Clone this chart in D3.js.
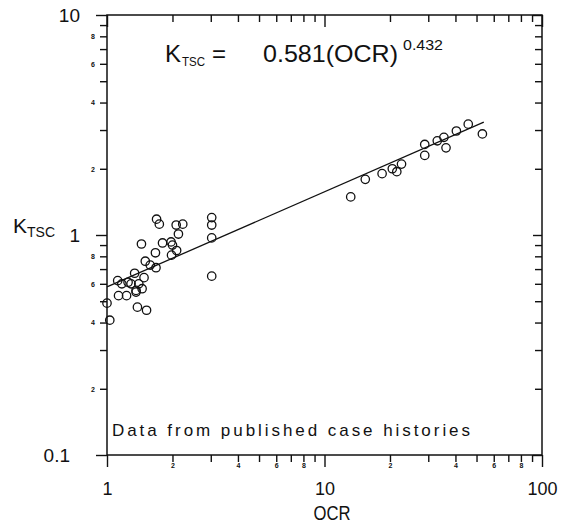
<!DOCTYPE html>
<html>
<head>
<meta charset="utf-8">
<script src="https://cdn.jsdelivr.net/npm/d3@7"></script>
<style>
  body { margin: 0; background: #fff; }
  text { font-family: "Liberation Sans", Arial, sans-serif; fill: #111; }
</style>
</head>
<body>
<svg id="chart"></svg>
<script>
// case history data
const ocr = [1.69, 1.74, 2.08, 2.23, 2.13, 3.03, 3.03, 3.03, 3.03, 1.44,
             1.80, 1.97, 2.00, 1.98, 2.09, 1.67, 1.50, 1.58, 1.68, 1.34,
             1.48, 1.12, 1.17, 1.25, 1.29, 1.40, 1.45, 1.36, 1.36, 1.13,
             1.23, 1.38, 1.52, 1.00, 1.03,
             13.2, 15.4, 18.4, 20.5, 21.5, 22.6, 28.9, 28.9, 33.0, 35.4,
             36.2, 40.4, 45.8, 53.2];
const ktsc = [1.18, 1.12, 1.11, 1.12, 1.01, 1.20, 1.11, 0.97, 0.65, 0.91,
              0.92, 0.93, 0.90, 0.81, 0.85, 0.83, 0.76, 0.73, 0.71, 0.67,
              0.64, 0.62, 0.60, 0.61, 0.60, 0.60, 0.57, 0.56, 0.55, 0.53,
              0.53, 0.47, 0.455, 0.49, 0.41,
              1.49, 1.79, 1.90, 2.00, 1.94, 2.10, 2.58, 2.30, 2.68, 2.78,
              2.49, 2.97, 3.19, 2.88];

// regression line end points: K = 0.581(OCR)^0.432
const fitOcr = [1, 54];
const fitK = [0.581, 3.26];

const xMajor = [1, 10, 100];
const yMajor = [0.1, 1, 10];
const minorLabels = [2, 4, 6, 8];

const width = 561, height = 524;
const margin = { top: 15, right: 19, bottom: 69, left: 107 };
const w = width - margin.left - margin.right;
const h = height - margin.top - margin.bottom;

const svg = d3.select("#chart")
    .attr("width", width)
    .attr("height", height);

const chart = svg.append("g")
    .attr("transform", `translate(${margin.left},${margin.top})`);

const x = d3.scaleLog().domain([1, 100]).range([0, w]);
const y = d3.scaleLog().domain([0.1, 10]).range([h, 0]);

const xMinor = x.ticks().filter(d => !xMajor.includes(d));
const yMinor = y.ticks().filter(d => !yMajor.some(m => Math.abs(m - d) < 1e-9));

const firstDigit = d => Math.round(d / Math.pow(10, Math.floor(Math.log10(d) + 1e-9)));
const minorFmt = d => minorLabels.includes(firstDigit(d)) ? firstDigit(d) : "";

function styleAxis(g) {
  g.select(".domain").remove();
  g.selectAll("line").attr("stroke", "#111").attr("stroke-width", 1.4);
}

// bottom axis
chart.append("g")
    .attr("transform", `translate(0,${h})`)
    .call(d3.axisBottom(x).tickValues(xMinor).tickSize(7).tickSizeOuter(0)
      .tickPadding(1).tickFormat(minorFmt))
    .call(styleAxis)
    .selectAll("text")
      .style("font-size", "7px").style("font-weight", "bold");

chart.append("g")
    .attr("transform", `translate(0,${h})`)
    .call(d3.axisBottom(x).tickValues(xMajor).tickSize(12).tickSizeOuter(0)
      .tickPadding(15).tickFormat(d3.format("d")))
    .call(styleAxis)
    .selectAll("text")
      .style("font-size", "18px");

// top axis, ticks inside
chart.append("g")
    .call(d3.axisBottom(x).tickValues(xMinor).tickSize(7).tickSizeOuter(0).tickFormat(""))
    .call(styleAxis);
chart.append("g")
    .call(d3.axisBottom(x).tickValues(xMajor).tickSize(12).tickSizeOuter(0).tickFormat(""))
    .call(styleAxis);

// left axis
chart.append("g")
    .call(d3.axisLeft(y).tickValues(yMinor).tickSize(7).tickSizeOuter(0)
      .tickPadding(5).tickFormat(minorFmt))
    .call(styleAxis)
    .selectAll("text")
      .style("font-size", "7px").style("font-weight", "bold");

chart.append("g")
    .call(d3.axisLeft(y).tickValues(yMajor).tickSize(11).tickSizeOuter(0)
      .tickPadding(16).tickFormat(d => d < 1 ? "0.1" : d3.format("d")(d)))
    .call(styleAxis)
    .selectAll("text")
      .style("font-size", "19px")
      .attr("dx", d => d < 1 ? -10 : 0);

// right axis, ticks inside
chart.append("g")
    .attr("transform", `translate(${w},0)`)
    .call(d3.axisLeft(y).tickValues(yMinor).tickSize(7).tickSizeOuter(0).tickFormat(""))
    .call(styleAxis);
chart.append("g")
    .attr("transform", `translate(${w},0)`)
    .call(d3.axisLeft(y).tickValues(yMajor).tickSize(9).tickSizeOuter(0).tickFormat(""))
    .call(styleAxis);

// frame
chart.append("rect")
    .attr("width", w)
    .attr("height", h)
    .attr("fill", "none")
    .attr("stroke", "#111")
    .attr("stroke-width", 1.5);

// fit line
chart.append("path")
    .datum(d3.zip(fitOcr, fitK))
    .attr("fill", "none")
    .attr("stroke", "#111")
    .attr("stroke-width", 1.3)
    .attr("d", d3.line().x(d => x(d[0])).y(d => y(d[1])));

// data points
chart.selectAll(".dot")
    .data(d3.zip(ocr, ktsc))
    .join("circle")
      .attr("class", "dot")
      .attr("cx", d => x(d[0]))
      .attr("cy", d => y(d[1]))
      .attr("r", 4.2)
      .attr("fill", "none")
      .attr("stroke", "#111")
      .attr("stroke-width", 1.3);

// equation
const eq = svg.append("g");
eq.append("text").attr("x", 165).attr("y", 62).style("font-size", "24px").text("K");
eq.append("text").attr("x", 182).attr("y", 66)
    .attr("textLength", 23).attr("lengthAdjust", "spacingAndGlyphs")
    .style("font-size", "13px").text("TSC");
eq.append("text").attr("x", 219).attr("y", 62).attr("text-anchor", "middle")
    .style("font-size", "24px").text("=");
eq.append("text").attr("x", 263).attr("y", 62)
    .attr("textLength", 135).attr("lengthAdjust", "spacingAndGlyphs")
    .style("font-size", "24px").text("0.581(OCR)");
eq.append("text").attr("x", 403).attr("y", 50)
    .attr("textLength", 40).attr("lengthAdjust", "spacingAndGlyphs")
    .style("font-size", "14px").text("0.432");

// note
svg.append("text")
    .attr("x", 112)
    .attr("y", 436)
    .attr("textLength", 358)
    .attr("lengthAdjust", "spacing")
    .style("font-size", "17px")
    .text("Data from published case histories");

// axis titles
svg.append("text")
    .attr("x", 332)
    .attr("y", 520)
    .attr("text-anchor", "middle")
    .attr("textLength", 37)
    .attr("lengthAdjust", "spacingAndGlyphs")
    .style("font-size", "21px")
    .text("OCR");

const yl = svg.append("text").attr("x", 13).attr("y", 233).style("font-size", "21px");
yl.append("tspan").text("K");
yl.append("tspan").attr("dy", 4).style("font-size", "14px").text("TSC");
</script>
</body>
</html>
